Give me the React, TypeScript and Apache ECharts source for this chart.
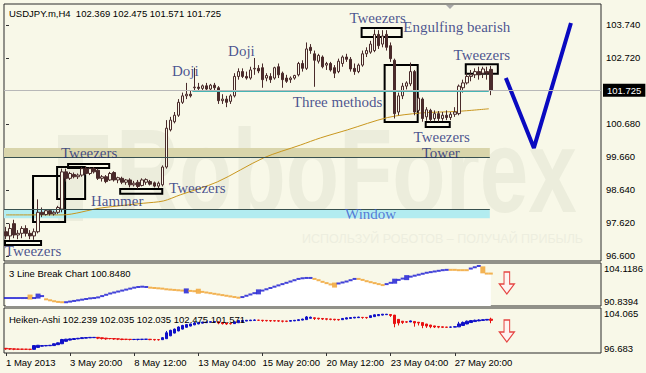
import { useEffect, useRef } from 'react';
import * as echarts from 'echarts';

// ---------- axis labels ----------
const tickBars = [0, 16, 32, 48, 64, 80, 96, 112];
const tickLabels = ['1 May 2013', '3 May 20:00', '8 May 12:00', '13 May 04:00', '15 May 20:00', '20 May 12:00', '23 May 04:00', '27 May 20:00'];
const priceTicks = [96.6, 97.62, 98.64, 99.66, 100.68, 102.72, 103.74];
const lastPrice = 101.725;
const lbScale = [90.8394, 104.1186];
const haScale = [96.683, 104.065];

// ---------- USDJPY H4 candles: [open, high, low, close] ----------
const candles: number[][] = [
  [97.35, 97.50, 97.12, 97.22], [97.22, 97.60, 97.10, 97.45], [97.60, 97.72, 97.15, 97.25], [97.25, 97.40, 97.12, 97.30],
  [97.30, 97.52, 97.15, 97.45], [97.45, 97.55, 97.20, 97.30], [97.30, 97.40, 97.12, 97.22], [97.22, 97.45, 97.10, 97.35],
  [97.35, 98.35, 97.30, 97.95], [97.95, 98.10, 97.80, 97.88], [97.88, 98.05, 97.85, 98.00], [98.00, 98.05, 97.85, 97.90],
  [97.90, 98.00, 97.85, 97.95], [97.95, 98.15, 97.90, 98.10], [98.05, 99.30, 97.95, 99.20], [99.20, 99.30, 98.90, 99.00],
  [99.00, 99.20, 98.95, 99.15], [99.12, 99.18, 99.00, 99.05], [99.05, 99.15, 98.98, 99.10], [99.10, 99.35, 99.05, 99.30],
  [99.30, 99.38, 99.10, 99.15], [99.15, 99.35, 99.10, 99.30], [99.30, 99.35, 99.15, 99.20], [99.25, 99.30, 98.95, 99.00],
  [99.00, 99.10, 98.90, 99.05], [99.05, 99.10, 98.85, 98.90], [98.95, 99.20, 98.92, 99.15], [99.18, 99.22, 98.90, 98.95],
  [98.95, 99.05, 98.85, 99.02], [99.00, 99.05, 98.82, 98.88], [98.88, 98.98, 98.80, 98.95], [98.95, 99.00, 98.72, 98.80],
  [98.80, 98.92, 98.75, 98.85], [98.88, 98.95, 98.68, 98.75], [98.78, 99.00, 98.75, 98.95], [98.88, 99.00, 98.80, 98.96],
  [98.90, 98.95, 98.78, 98.82], [98.86, 98.90, 98.72, 98.76], [98.76, 98.90, 98.70, 98.85], [98.80, 99.40, 98.75, 99.35],
  [99.35, 100.80, 99.30, 100.55], [100.50, 100.90, 100.45, 100.80], [100.75, 101.05, 100.70, 100.95], [100.95, 101.45, 100.90, 101.35],
  [101.35, 101.65, 101.30, 101.55], [101.55, 101.95, 101.45, 101.60], [101.60, 101.70, 101.50, 101.55], [101.80, 102.42, 101.72, 101.82],
  [101.82, 101.95, 101.72, 101.78], [101.78, 101.90, 101.68, 101.86], [101.86, 101.95, 101.72, 101.76], [101.76, 101.92, 101.70, 101.88],
  [101.88, 101.95, 101.72, 101.80], [101.80, 101.85, 101.30, 101.40], [101.40, 101.60, 101.30, 101.45], [101.45, 101.55, 101.20, 101.35],
  [101.38, 101.60, 101.30, 101.55], [101.55, 102.25, 101.50, 102.15], [102.15, 102.40, 102.05, 102.30], [102.30, 102.40, 102.10, 102.15],
  [102.15, 102.30, 102.05, 102.10], [102.10, 102.45, 102.05, 102.35], [102.38, 102.72, 102.20, 102.40], [102.40, 102.50, 102.25, 102.32],
  [102.42, 102.55, 101.80, 102.05], [102.10, 102.25, 102.00, 102.18], [102.15, 102.25, 101.95, 102.05], [102.10, 102.45, 102.05, 102.42],
  [102.45, 102.55, 102.10, 102.20], [102.25, 102.30, 101.80, 102.05], [102.10, 102.20, 101.95, 102.00], [102.05, 102.15, 101.95, 102.10],
  [102.10, 102.20, 102.05, 102.18], [102.20, 102.60, 102.15, 102.55], [102.55, 102.65, 102.30, 102.40], [102.40, 103.20, 102.35, 103.00],
  [103.05, 103.15, 102.85, 102.95], [102.85, 102.95, 101.83, 102.65], [102.62, 102.85, 102.55, 102.80], [102.75, 102.80, 102.40, 102.45],
  [102.50, 102.60, 102.35, 102.55], [102.55, 102.60, 102.30, 102.35], [102.42, 102.50, 102.10, 102.25], [102.30, 102.70, 102.25, 102.62],
  [102.55, 102.80, 102.45, 102.75], [102.75, 102.85, 102.60, 102.68], [102.68, 102.75, 102.30, 102.38], [102.40, 102.55, 102.20, 102.30],
  [102.30, 102.55, 102.25, 102.50], [102.50, 102.95, 102.45, 102.85], [102.85, 103.05, 102.75, 102.95], [102.90, 103.25, 102.85, 103.15],
  [102.95, 103.60, 102.90, 103.45], [103.45, 103.58, 103.00, 103.10], [103.15, 103.58, 103.05, 103.40], [103.45, 103.58, 102.95, 103.05],
  [103.10, 103.20, 102.60, 102.70], [102.65, 102.70, 100.85, 101.00], [101.05, 101.65, 100.95, 101.55], [101.55, 101.95, 101.45, 101.85],
  [101.85, 102.00, 101.75, 101.95], [101.92, 102.58, 101.85, 102.30], [102.30, 102.35, 100.95, 101.05], [101.10, 101.60, 101.00, 101.48],
  [101.45, 101.50, 100.75, 100.85], [100.90, 101.20, 100.78, 101.12], [101.10, 101.15, 100.75, 100.82], [100.85, 101.10, 100.78, 101.00],
  [101.00, 101.08, 100.75, 100.85], [100.85, 101.05, 100.78, 100.95], [100.95, 101.10, 100.80, 100.88], [100.88, 101.05, 100.80, 100.98],
  [100.98, 101.20, 100.90, 101.05], [101.00, 101.90, 100.95, 101.85], [101.80, 102.05, 101.65, 101.95], [101.95, 102.25, 101.90, 102.15],
  [102.15, 102.35, 102.00, 102.20], [102.20, 102.40, 102.10, 102.30], [102.30, 102.45, 102.05, 102.20], [102.25, 102.45, 102.10, 102.38],
  [102.30, 102.45, 102.05, 102.25], [102.369, 102.475, 101.571, 101.725],
];

// ---------- moving average (sparse points: bar, value) ----------
const maPoints: number[][] = [
  [0, 97.87], [14, 97.87], [23.5, 98.08], [34.25, 98.23], [39.25, 98.30], [43.5, 98.49], [52.75, 98.89],
  [64.25, 99.63], [73.5, 100.03], [78.5, 100.25], [85.25, 100.5], [95.25, 100.88], [103.5, 101.02],
  [112.75, 101.07], [120.5, 101.15],
];

// ---------- forecast V (bar, price) ----------
const vPoints: number[][] = [[124.75, 102.1], [131.75, 99.94], [141, 103.8]];

// ---------- drawn zones [bar1, price1, bar2, price2] ----------
const towerZone = [-0.5, 99.94, 120.75, 99.66];
const windowZone = [-0.5, 98.04, 120.75, 97.77];
const boxes: number[][] = [
  [-0.25, 97.06, 8.75, 96.94],
  [6.75, 99.07, 14.75, 97.65],
  [12.75, 99.35, 19.75, 98.36],
  [15.5, 99.44, 25.75, 99.32],
  [28.5, 98.67, 39, 98.52],
  [88.75, 103.65, 98.75, 103.37],
  [94.5, 102.5, 102.75, 100.74],
  [104.75, 100.74, 110.75, 100.59],
  [114.75, 102.53, 122.75, 102.23],
];
const supportLine = [46.5, 120.5, 101.70];

// ---------- pattern labels ----------
const noteTexts = ['Tweezers', 'Tweezers', 'Hammer', 'Tweezers', 'Doji', 'Doji', 'Three methods', 'Tweezers', 'Engulfing bearish', 'Tweezers', 'Tweezers', 'Tower', 'Window'];
const noteBars = [6.75, 20.75, 27.75, 47.75, 44.75, 58.75, 82.75, 92.75, 112.5, 118.75, 108.75, 108.5, 91];
const notePrices = [96.75, 99.78, 98.3, 98.7, 102.32, 102.94, 101.36, 103.96, 103.68, 102.81, 100.29, 99.78, 97.9];

// ---------- 3 Line Break ----------
const lbValues = [
  93.3, 93.3, 93.3, 93.3, 93.3, 93.3, 93.6, 93.3, 93.9, 93.9,
  92.9, 92.6, 92.3, 92.1, 92.0,
  92.0, 92.2, 92.4, 92.6, 92.8, 93.0, 93.2, 93.3,
  93.5, 93.9, 94.3, 94.7, 95.0, 95.3, 95.6, 95.9, 96.2, 96.5, 96.7,
  96.8, 96.7,
  96.5, 96.4, 96.3, 96.2, 96.0, 95.9, 95.8, 95.7, 95.6,
  95.5, 95.5, 95.4, 95.4,
  95.2, 95.0, 94.8, 94.6, 94.4, 94.2, 94.0, 93.8, 93.6, 93.4,
  93.6, 94.0, 94.4, 94.8, 95.2,
  95.6, 96.0, 96.4, 96.8, 97.2, 97.6, 98.0, 98.4, 98.8, 99.2,
  99.4, 99.5, 99.5,
  99.2, 98.8, 98.3, 97.9, 97.5, 97.3,
  97.8, 98.1, 98.4, 98.8, 99.2,
  99.2, 98.9, 98.5, 98.2, 97.9, 97.6, 97.3,
  97.6, 98.0, 98.5, 98.9, 99.3, 99.6, 99.9,
  100.2, 100.5, 100.8, 101.1, 101.3, 101.5, 101.7, 101.9, 102.0,
  102.0, 102.0, 101.9, 101.9, 101.9,
  102.4, 102.8, 103.2,
  102.0, 100.85, 100.85,
];
const lbRuns: [string, number][] = [
  ['u', 6], ['d', 1], ['u', 3], ['d', 5], ['u', 21], ['d', 9], ['u', 1], ['d', 13], ['u', 18],
  ['d', 6], ['u', 5], ['d', 7], ['u', 16], ['d', 5], ['u', 3], ['d', 3],
];
const lbBigBricks = [6, 8, 45, 48, 63, 82, 97, 100];
const lbTallBrick = 119;
const lbLast = '100.8480';

// ---------- Heiken-Ashi: [open, close, low, high] ----------
const haBars: number[][] = [
  [97.45, 97.35, 97.2, 97.5], [97.4, 97.32, 97.2, 97.45], [97.36, 97.3, 97.15, 97.4], [97.33, 97.3, 97.2, 97.38],
  [97.32, 97.3, 97.18, 97.35], [97.31, 97.29, 97.18, 97.35], [97.3, 97.28, 97.15, 97.32], [97.28, 97.9, 97.25, 97.95],
  [97.6, 97.95, 97.55, 98.0], [97.8, 97.9, 97.75, 97.98], [97.85, 97.92, 97.8, 97.98], [97.88, 97.95, 97.85, 98.0],
  [97.9, 98.2, 97.88, 98.25], [98.05, 98.35, 98.0, 98.4], [98.2, 98.9, 98.15, 99.0], [98.6, 98.95, 98.55, 99.0],
  [98.8, 99.0, 98.75, 99.05], [98.9, 99.05, 98.88, 99.1], [99.0, 99.1, 98.95, 99.15], [99.05, 99.2, 99.0, 99.25],
  [99.12, 99.22, 99.1, 99.28], [99.17, 99.25, 99.15, 99.3], [99.2, 99.25, 99.18, 99.3], [99.25, 99.12, 98.95, 99.27],
  [99.18, 99.05, 98.9, 99.2], [99.12, 99.0, 98.85, 99.15], [99.06, 99.04, 98.92, 99.1], [99.05, 98.98, 98.85, 99.08],
  [99.01, 98.96, 98.8, 99.03], [98.98, 98.9, 98.78, 99.0], [98.94, 98.92, 98.8, 98.98], [98.93, 98.9, 98.75, 98.95],
  [98.9, 98.92, 98.8, 98.95], [98.91, 98.93, 98.75, 98.95], [98.92, 98.94, 98.8, 98.98], [98.93, 98.95, 98.82, 98.98],
  [98.94, 98.88, 98.78, 98.96], [98.91, 98.85, 98.72, 98.93], [98.88, 98.86, 98.72, 98.9], [98.87, 99.2, 98.85, 99.3],
  [99.03, 100.0, 99.0, 100.3], [99.5, 100.4, 99.45, 100.5], [99.95, 100.6, 99.9, 100.7], [100.3, 100.95, 100.25, 101.05],
  [100.6, 101.2, 100.55, 101.3], [100.9, 101.35, 100.85, 101.45], [101.1, 101.45, 101.05, 101.5], [101.3, 101.6, 101.25, 101.8],
  [101.45, 101.7, 101.4, 101.75], [101.58, 101.75, 101.55, 101.8], [101.66, 101.78, 101.6, 101.82], [101.72, 101.82, 101.68, 101.85],
  [101.77, 101.84, 101.72, 101.88], [101.8, 101.6, 101.4, 101.82], [101.7, 101.5, 101.35, 101.72], [101.6, 101.45, 101.3, 101.62],
  [101.52, 101.48, 101.35, 101.55], [101.5, 101.8, 101.45, 101.85], [101.65, 102.0, 101.6, 102.05], [101.82, 102.02, 101.8, 102.1],
  [101.92, 102.05, 101.9, 102.1], [101.98, 102.08, 101.95, 102.12], [102.03, 102.1, 102.0, 102.2], [102.07, 102.05, 101.95, 102.12],
  [102.06, 102.0, 101.8, 102.1], [102.03, 101.98, 101.85, 102.06], [102.0, 101.96, 101.8, 102.03], [101.98, 101.95, 101.85, 102.02],
  [101.97, 101.92, 101.8, 102.0], [101.94, 101.9, 101.7, 101.96], [101.92, 101.88, 101.75, 101.95], [101.9, 102.0, 101.88, 102.05],
  [101.95, 102.05, 101.92, 102.1], [102.0, 102.15, 101.98, 102.2], [102.08, 102.25, 102.05, 102.3], [102.16, 102.6, 102.15, 102.75],
  [102.38, 102.55, 102.35, 102.65], [102.46, 102.35, 102.1, 102.5], [102.4, 102.3, 102.15, 102.42], [102.35, 102.25, 102.1, 102.38],
  [102.3, 102.22, 102.05, 102.32], [102.26, 102.2, 102.05, 102.28], [102.23, 102.15, 102.0, 102.25], [102.19, 102.12, 102.0, 102.22],
  [102.15, 102.35, 102.12, 102.4], [102.25, 102.45, 102.22, 102.5], [102.35, 102.5, 102.32, 102.55], [102.42, 102.55, 102.4, 102.6],
  [102.48, 102.58, 102.45, 102.62], [102.53, 102.5, 102.3, 102.56], [102.52, 102.48, 102.3, 102.54], [102.5, 102.8, 102.48, 102.85],
  [102.65, 102.95, 102.6, 103.0], [102.8, 103.0, 102.75, 103.05], [102.9, 103.05, 102.85, 103.08], [102.97, 103.05, 102.95, 103.08],
  [103.0, 102.85, 102.6, 103.02], [102.9, 101.5, 100.9, 102.92], [102.2, 101.6, 101.2, 102.22], [101.9, 101.7, 101.45, 101.92],
  [101.8, 101.75, 101.6, 101.85], [101.78, 101.95, 101.75, 102.0], [101.86, 101.6, 101.0, 101.9], [101.73, 101.6, 101.2, 101.75],
  [101.67, 101.2, 100.75, 101.7], [101.44, 101.1, 100.8, 101.46], [101.27, 101.0, 100.75, 101.3], [101.13, 100.95, 100.78, 101.15],
  [101.04, 100.93, 100.75, 101.06], [100.98, 100.9, 100.78, 101.0], [100.94, 100.9, 100.8, 100.96], [100.92, 100.95, 100.8, 101.0],
  [100.93, 101.0, 100.9, 101.1], [100.97, 101.45, 100.95, 101.8], [101.2, 101.7, 101.15, 101.85], [101.45, 101.9, 101.4, 102.0],
  [101.68, 102.0, 101.65, 102.1], [101.84, 102.05, 101.82, 102.15], [101.95, 102.1, 101.9, 102.2], [102.02, 102.15, 102.0, 102.2],
  [102.08, 102.2, 102.05, 102.25], [102.239, 102.035, 101.571, 102.475],
];
const haTitleValues = ['102.239', '102.035', '102.035', '102.475', '101.571'];

// ---------- signal arrows (bar, panel value) ----------
const arrowBar = 125;
const arrowLB = 97.94;
const arrowHA = 100.29;

const BG = '#F8F8E8';
const WM = '#ECEDDC';
const SANS = '"Liberation Sans", Arial, sans-serif';
const SERIF = '"Liberation Serif", "Times New Roman", serif';
const CANDLE = '#4A2B2B';
const NAVY = '#1B2A78';
const X_MIN = -0.5;
const X_MAX = 148.5;

export default function App() {
  const ref = useRef<HTMLDivElement>(null);

  useEffect(() => {
    document.body.style.margin = '0';
    const chart = echarts.init(ref.current!, undefined, { renderer: 'svg' });

    const lbDirs: string[] = [];
    lbRuns.forEach(([d, n]) => { for (let k = 0; k < n; k++) lbDirs.push(d); });

    const gridBase = { left: 4, right: 45, show: true, borderColor: '#2a2a2a', borderWidth: 1, backgroundColor: 'transparent' };

    const xAxisBase = (gi: number, labels: boolean) => ({
      type: 'value', gridIndex: gi, min: X_MIN, max: X_MAX,
      axisLine: { show: false }, splitLine: { show: false },
      axisTick: labels ? { show: true, customValues: tickBars, length: 3, lineStyle: { color: '#333' } } : { show: false },
      axisLabel: labels ? {
        show: true, customValues: tickBars, align: 'left', margin: 4, fontSize: 9.5, color: '#000', fontFamily: SANS,
        formatter: (v: number) => tickLabels[tickBars.indexOf(Math.round(v))] ?? '',
      } : { show: false },
    });

    const subY = (gi: number, range: number[]) => ({
      type: 'value', gridIndex: gi, position: 'right', min: range[0], max: range[1],
      axisLine: { show: false }, splitLine: { show: false }, axisTick: { show: false },
      axisLabel: {
        customValues: range, fontSize: 9.5, color: '#000', fontFamily: SANS, margin: 3,
        verticalAlignMinLabel: 'bottom', verticalAlignMaxLabel: 'top',
        formatter: (v: number) => String(v),
      },
    });

    const area = (z: number[], style: any) => [
      { coord: [z[0], z[1]], itemStyle: style },
      { coord: [z[2], z[3]] },
    ];

    const option: any = {
      animation: false,
      backgroundColor: BG,
      grid: [
        { ...gridBase, top: 4, height: 257 },
        { ...gridBase, top: 263, height: 43 },
        { ...gridBase, top: 308, height: 45 },
      ],
      xAxis: [xAxisBase(0, false), xAxisBase(1, false), xAxisBase(2, true)],
      yAxis: [
        {
          type: 'value', gridIndex: 0, position: 'right', min: 96.445, max: 104.389,
          axisLine: { show: false }, splitLine: { show: false },
          axisTick: { show: true, customValues: priceTicks, length: 3, lineStyle: { color: '#333' } },
          axisLabel: { customValues: priceTicks, formatter: (v: number) => v.toFixed(3), fontSize: 9.5, color: '#000', fontFamily: SANS, margin: 5 },
        },
        subY(1, lbScale),
        subY(2, haScale),
      ],
      graphic: [
        { type: 'rect', z: 0, silent: true, shape: { x: 58, y: 135, width: 25, height: 86 }, style: { fill: WM } },
        { type: 'rect', z: 0, silent: true, shape: { x: 58, y: 135, width: 50, height: 18 }, style: { fill: WM } },
        {
          type: 'text', z: 0, silent: true, x: 116, y: 112, scaleX: 0.74,
          style: { text: 'RoboForex', x: 0, y: 0, verticalAlign: 'top', font: 'bold 118px "Liberation Sans"', fill: WM },
        },
        {
          type: 'text', z: 0, silent: true,
          style: { text: 'ИСПОЛЬЗУЙ РОБОТОВ – ПОЛУЧАЙ ПРИБЫЛЬ', x: 302, y: 239, verticalAlign: 'middle', font: 'normal 12.5px "Liberation Sans"', fill: '#EDEEDF' },
        },
        { type: 'polygon', z: 10, silent: true, shape: { points: [[446, 5], [454, 5], [450, 9]] }, style: { fill: '#A8A8A8' } },
        {
          type: 'text', z: 10, silent: true,
          style: { text: 'USDJPY.m,H4  102.369 102.475 101.571 101.725', x: 9, y: 13, verticalAlign: 'middle', font: `9.5px ${SANS}`, fill: '#000' },
        },
        {
          type: 'text', z: 10, silent: true,
          style: { text: `3 Line Break Chart ${lbLast}`, x: 9, y: 273, verticalAlign: 'middle', font: `9.5px ${SANS}`, fill: '#000' },
        },
        {
          type: 'text', z: 10, silent: true,
          style: { text: `Heiken-Ashi ${haTitleValues.join(' ')}`, x: 9, y: 319, verticalAlign: 'middle', font: `9.5px ${SANS}`, fill: '#000' },
        },
      ],
      series: [
        {
          name: 'USDJPY', type: 'candlestick', xAxisIndex: 0, yAxisIndex: 0, z: 3,
          barWidth: 3,
          data: candles.map((c, i) => [i, c[0], c[3], c[2], c[1]]),
          itemStyle: { color: BG, color0: CANDLE, borderColor: CANDLE, borderColor0: CANDLE, borderWidth: 1 },
          markArea: {
            silent: true, z: 1,
            label: { show: false },
            data: [
              area(towerZone, { color: '#D9D5AB' }),
              area(windowZone, { color: '#B2ECF0' }),
              ...boxes.map((b) => area(b, { color: 'rgba(0,0,0,0)', borderColor: '#000', borderWidth: 2 })),
            ],
          },
          markLine: {
            silent: true, symbol: ['none', 'none'], precision: 3,
            label: { show: false },
            data: [
              {
                yAxis: lastPrice,
                lineStyle: { color: '#B8B8B8', type: 'solid', width: 1 },
                label: {
                  show: true, position: 'end', formatter: lastPrice.toFixed(3), distance: 2,
                  backgroundColor: '#000', color: '#fff', padding: [2, 4, 1, 4], fontSize: 9.5, fontFamily: SANS,
                },
              },
              [
                { coord: [supportLine[0], supportLine[2]], lineStyle: { color: '#46B4B4', type: 'solid', width: 1 } },
                { coord: [supportLine[1], supportLine[2]] },
              ],
              [
                { coord: [towerZone[0], towerZone[3]], lineStyle: { color: '#38504F', type: 'solid', width: 1 } },
                { coord: [towerZone[2], towerZone[3]] },
              ],
              [
                { coord: [windowZone[0], windowZone[1]], lineStyle: { color: '#38504F', type: 'solid', width: 1 } },
                { coord: [windowZone[2], windowZone[1]] },
              ],
            ],
          },
        },
        {
          name: 'MA', type: 'line', xAxisIndex: 0, yAxisIndex: 0, z: 2,
          data: maPoints, showSymbol: false, smooth: 0.3,
          lineStyle: { color: '#C8961E', width: 1 },
        },
        {
          name: 'Forecast', type: 'line', xAxisIndex: 0, yAxisIndex: 0, z: 4,
          data: vPoints, showSymbol: false,
          lineStyle: { color: '#0A0AC0', width: 4 },
        },
        {
          name: 'Notes', type: 'scatter', xAxisIndex: 0, yAxisIndex: 0, z: 6,
          symbol: 'rect', symbolSize: 1, itemStyle: { color: 'transparent' },
          label: { show: true, position: 'inside', fontFamily: SERIF, fontSize: 15, color: NAVY, lineHeight: 14 },
          data: noteTexts.map((t, k) => ({
            value: [noteBars[k], notePrices[k]],
            label: { formatter: t, color: t === 'Window' ? '#3A5CCF' : NAVY },
          })),
        },
        {
          name: 'LB area', type: 'line', xAxisIndex: 1, yAxisIndex: 1, z: 2,
          data: lbValues.map((v, i) => [i, v]), showSymbol: false,
          lineStyle: { width: 0, opacity: 0 },
          areaStyle: { color: '#FFFFFF', opacity: 1, origin: 'start' },
        },
        {
          name: '3 Line Break', type: 'scatter', xAxisIndex: 1, yAxisIndex: 1, z: 3,
          symbol: 'rect',
          data: lbValues.map((v, i) => {
            const up = lbDirs[i] === 'u';
            const size = i === lbTallBrick ? [5, 7] : lbBigBricks.includes(i) ? [5, 5] : [4, 2];
            return { value: [i, v], symbolSize: size, itemStyle: { color: up ? '#1414D2' : '#F0A02A' } };
          }),
        },
        {
          name: 'LB signal', type: 'scatter', xAxisIndex: 1, yAxisIndex: 1, z: 5,
          symbol: 'path://M5,0L11,0L11,13L16,13L8,24L0,13L5,13Z', symbolSize: [15, 22],
          itemStyle: { color: '#FFF2F2', borderColor: '#E01818', borderWidth: 1.2 },
          data: [[arrowBar, arrowLB]],
        },
        {
          name: 'Heiken-Ashi', type: 'candlestick', xAxisIndex: 2, yAxisIndex: 2, z: 3,
          barWidth: 3,
          data: haBars.map((h, i) => [i, h[0], h[1], h[2], h[3]]),
          itemStyle: { color: '#1010C8', color0: '#E81010', borderColor: '#1010C8', borderColor0: '#E81010', borderWidth: 1 },
        },
        {
          name: 'HA signal', type: 'scatter', xAxisIndex: 2, yAxisIndex: 2, z: 5,
          symbol: 'path://M5,0L11,0L11,13L16,13L8,24L0,13L5,13Z', symbolSize: [15, 22],
          itemStyle: { color: '#FFF2F2', borderColor: '#E01818', borderWidth: 1.2 },
          data: [[arrowBar, arrowHA]],
        },
      ],
    };

    chart.setOption(option);
    return () => chart.dispose();
  }, []);

  return <div ref={ref} style={{ position: 'fixed', left: 0, top: 0, width: 646, height: 373 }} />;
}
